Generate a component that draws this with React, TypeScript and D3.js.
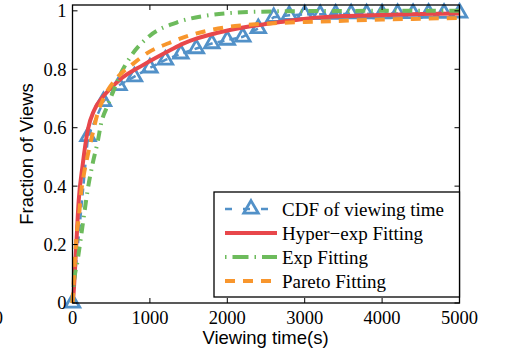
import React, { useEffect, useRef } from 'react';
import * as d3 from 'd3';

// CDF of viewing time (markers every 200 s)
const cdfTime = [0, 200, 400, 600, 800, 1000, 1200, 1400, 1600, 1800, 2000, 2200, 2400, 2600, 2800, 3000, 3200, 3400, 3600, 3800, 4000, 4200, 4400, 4600, 4800, 5000];
const cdfFrac = [0, 0.57, 0.69, 0.745, 0.775, 0.805, 0.832, 0.853, 0.871, 0.888, 0.9, 0.911, 0.94, 0.978, 0.985, 0.988, 0.988, 0.989, 0.99, 0.99, 0.99, 0.991, 0.991, 0.992, 0.992, 0.993];

// Hyper-exp fitting
const hyperTime = [0, 10, 45, 80, 130, 200, 280, 390, 475, 615, 915, 1260, 1430, 1600, 1860, 2300, 2720, 3070, 3500, 4000, 4500, 5000];
const hyperFrac = [0, 0.02, 0.18, 0.35, 0.47, 0.595, 0.66, 0.705, 0.73, 0.765, 0.815, 0.865, 0.888, 0.905, 0.924, 0.947, 0.963, 0.975, 0.982, 0.986, 0.989, 0.991];

// Exp fitting
const expTime = [0, 10, 67, 110, 152, 196, 261, 326, 368, 460, 520, 614, 765, 1000, 1346, 1690, 2010, 2400, 3000, 4000, 5000];
const expFrac = [0, 0.045, 0.147, 0.227, 0.307, 0.387, 0.478, 0.553, 0.612, 0.68, 0.72, 0.78, 0.849, 0.915, 0.96, 0.982, 0.992, 0.997, 0.999, 1.0, 1.0];

// Pareto fitting
const paretoTime = [0, 10, 50, 88, 110, 150, 200, 260, 325, 410, 590, 765, 980, 1250, 1500, 1800, 2100, 2500, 3000, 3500, 4000, 4500, 5000];
const paretoFrac = [0, 0.05, 0.22, 0.31, 0.375, 0.445, 0.51, 0.58, 0.65, 0.705, 0.775, 0.815, 0.858, 0.89, 0.915, 0.935, 0.948, 0.956, 0.962, 0.966, 0.97, 0.973, 0.976];

const xTicks = [0, 1000, 2000, 3000, 4000, 5000];
const yTicks = [0, 0.2, 0.4, 0.6, 0.8, 1];
const legendLabels = ['CDF of viewing time', 'Hyper\u2212exp Fitting', 'Exp Fitting', 'Pareto Fitting'];

const BLUE = '#5291c8';
const RED = '#e8474b';
const GREEN = '#6dbb5c';
const ORANGE = '#f8962d';

const App: React.FC = () => {
  const svgRef = useRef<SVGSVGElement>(null);

  useEffect(() => {
    if (!svgRef.current) return;
    const svg = d3.select(svgRef.current);
    svg.selectAll('*').remove();

    const left = 72.5, right = 459.5, top = 5, bottom = 303;
    const x = d3.scaleLinear().domain([0, 5000]).range([left, right]);
    const y = d3.scaleLinear().domain([0, 1.02]).range([bottom, top]);

    const serif = '"Liberation Serif", "Times New Roman", serif';
    const sans = '"Liberation Sans", Arial, sans-serif';

    const smooth = d3.line<[number, number]>()
      .x(d => x(d[0]))
      .y(d => y(d[1]))
      .curve(d3.curveMonotoneX);
    const straight = d3.line<[number, number]>()
      .x(d => x(d[0]))
      .y(d => y(d[1]));

    const zip = (a: number[], b: number[]) => a.map((v, i) => [v, b[i]] as [number, number]);

    const plot = svg.append('g');

    // CDF dashed line + triangle markers
    const cdf = zip(cdfTime, cdfFrac);
    plot.append('path')
      .attr('d', straight(cdf))
      .attr('fill', 'none')
      .attr('stroke', BLUE)
      .attr('stroke-width', 2.5)
      .attr('stroke-dasharray', '7,5');

    const tri = (cx: number, cy: number) => {
      const r = 8.4;
      const h = r * Math.cos(Math.PI / 6);
      return `M${cx},${cy - r}L${cx + h},${cy + r / 2}L${cx - h},${cy + r / 2}Z`;
    };
    plot.selectAll('path.tri')
      .data(cdf)
      .join('path')
      .attr('class', 'tri')
      .attr('d', d => tri(x(d[0]), y(d[1])))
      .attr('fill', 'none')
      .attr('stroke', BLUE)
      .attr('stroke-width', 2.8)
      .attr('stroke-linejoin', 'miter');

    plot.append('path')
      .attr('d', smooth(zip(hyperTime, hyperFrac)))
      .attr('fill', 'none')
      .attr('stroke', RED)
      .attr('stroke-width', 4);

    plot.append('path')
      .attr('d', smooth(zip(expTime, expFrac)))
      .attr('fill', 'none')
      .attr('stroke', GREEN)
      .attr('stroke-width', 4)
      .attr('stroke-dasharray', '10,6,1.5,6');

    plot.append('path')
      .attr('d', smooth(zip(paretoTime, paretoFrac)))
      .attr('fill', 'none')
      .attr('stroke', ORANGE)
      .attr('stroke-width', 4)
      .attr('stroke-dasharray', '10,8');

    // Axes box
    svg.append('rect')
      .attr('x', left).attr('y', top)
      .attr('width', right - left).attr('height', bottom - top)
      .attr('fill', 'none').attr('stroke', '#000').attr('stroke-width', 1.3);

    const ticks = svg.append('g').attr('stroke', '#000').attr('stroke-width', 1);
    xTicks.forEach(t => {
      ticks.append('line').attr('x1', x(t)).attr('x2', x(t)).attr('y1', bottom).attr('y2', bottom - 5);
      ticks.append('line').attr('x1', x(t)).attr('x2', x(t)).attr('y1', top).attr('y2', top + 5);
    });
    yTicks.forEach(t => {
      ticks.append('line').attr('x1', left).attr('x2', left + 5).attr('y1', y(t)).attr('y2', y(t));
      ticks.append('line').attr('x1', right).attr('x2', right - 5).attr('y1', y(t)).attr('y2', y(t));
    });

    svg.append('g')
      .selectAll('text')
      .data(xTicks)
      .join('text')
      .attr('x', d => x(d))
      .attr('y', 324)
      .attr('text-anchor', 'middle')
      .style('font', `18.5px ${serif}`)
      .text(d => String(d));

    svg.append('g')
      .selectAll('text')
      .data(yTicks)
      .join('text')
      .attr('x', 66.5)
      .attr('y', d => y(d))
      .attr('dy', '0.35em')
      .attr('text-anchor', 'end')
      .style('font', `18.5px ${serif}`)
      .text(d => d3.format('~g')(d));

    // stray tick label from neighbouring panel, cut at the left edge as in the source
    svg.append('text')
      .attr('x', 3).attr('y', 324)
      .attr('text-anchor', 'end')
      .style('font', `18.5px ${serif}`)
      .text('0');

    svg.append('text')
      .attr('x', (left + right) / 2 - 0.5)
      .attr('y', 344)
      .attr('text-anchor', 'middle')
      .style('font', `18.5px ${sans}`)
      .text('Viewing time(s)');

    svg.append('text')
      .attr('transform', `translate(33,${(top + bottom) / 2}) rotate(-90)`)
      .attr('text-anchor', 'middle')
      .style('font', `18.5px ${sans}`)
      .text('Fraction of Views');

    // Legend
    const lg = svg.append('g');
    lg.append('rect')
      .attr('x', 214).attr('y', 192)
      .attr('width', 245.5).attr('height', 105)
      .attr('fill', '#fff').attr('stroke', '#000').attr('stroke-width', 1.3);

    const rowY = [209, 233, 257, 281];
    const styles = [
      { c: BLUE, w: 2.5, dash: '7,11' },
      { c: RED, w: 4, dash: null },
      { c: GREEN, w: 4, dash: '1.5,6,16,6' },
      { c: ORANGE, w: 4, dash: '10,8' },
    ];
    legendLabels.forEach((label, i) => {
      const s = styles[i];
      const ln = lg.append('line')
        .attr('x1', 225).attr('x2', 277)
        .attr('y1', rowY[i]).attr('y2', rowY[i])
        .attr('stroke', s.c).attr('stroke-width', s.w);
      if (s.dash) ln.attr('stroke-dasharray', s.dash);
      if (i === 0) {
        lg.append('path')
          .attr('d', tri(251, rowY[i]))
          .attr('fill', 'none')
          .attr('stroke', BLUE)
          .attr('stroke-width', 2.8);
      }
      lg.append('text')
        .attr('x', 282)
        .attr('y', rowY[i])
        .attr('dy', '0.35em')
        .style('font', `19px ${serif}`)
        .text(label);
    });
  }, []);

  return (
    <svg
      ref={svgRef}
      width={505}
      height={358}
      style={{ position: 'absolute', left: 0, top: 0, background: '#fff' }}
    />
  );
};

export default App;
